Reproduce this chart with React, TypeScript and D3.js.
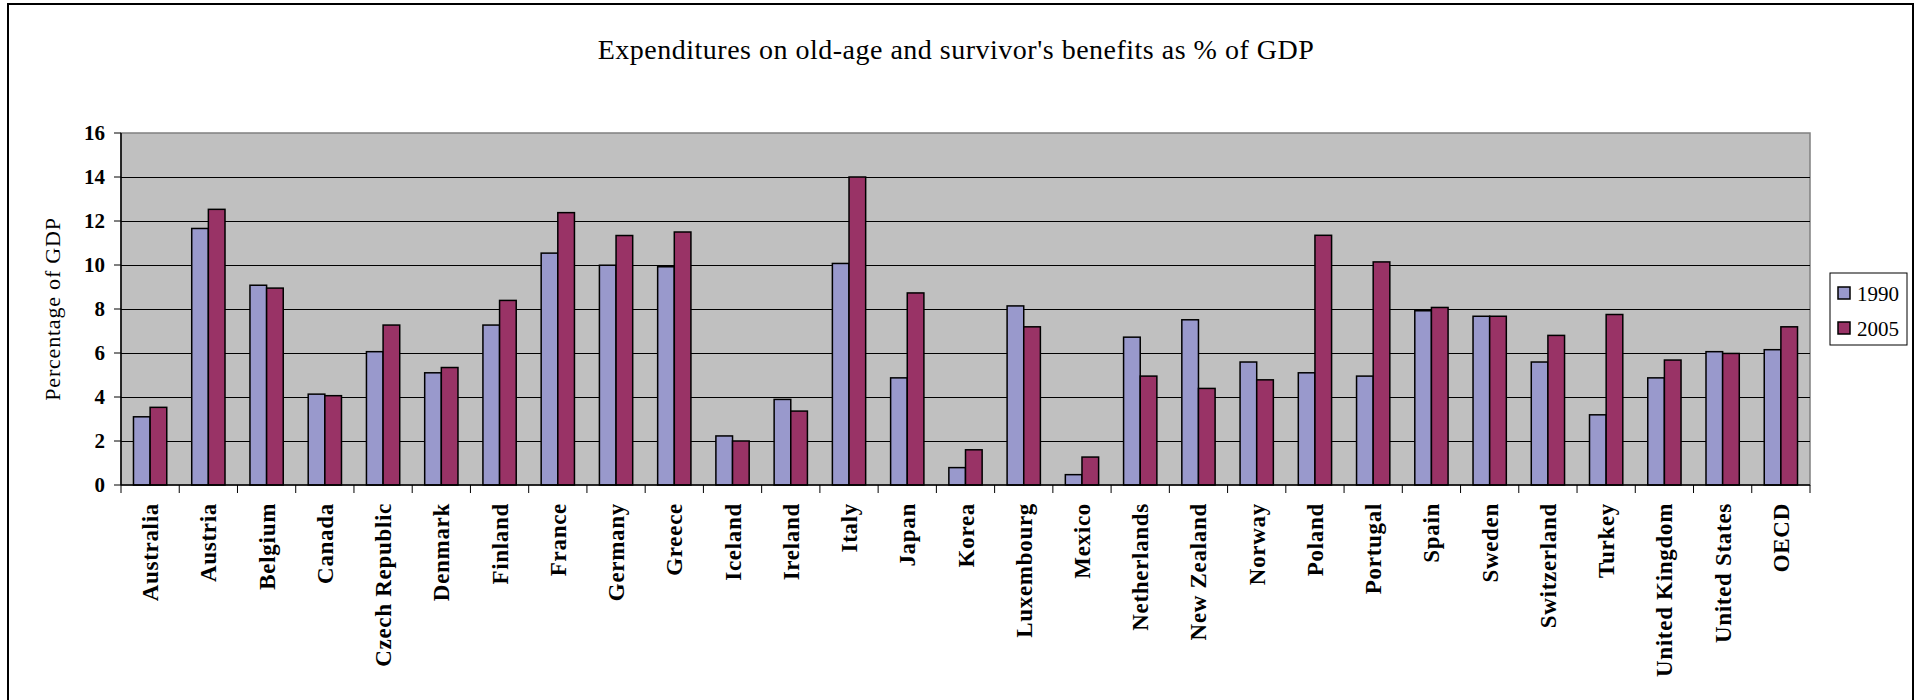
import React from "react";
import * as d3 from "d3";

const categories = [
  "Australia", "Austria", "Belgium", "Canada", "Czech Republic", "Denmark", "Finland",
  "France", "Germany", "Greece", "Iceland", "Ireland", "Italy", "Japan", "Korea",
  "Luxembourg", "Mexico", "Netherlands", "New Zealand", "Norway", "Poland", "Portugal",
  "Spain", "Sweden", "Switzerland", "Turkey", "United Kingdom", "United States", "OECD",
];
const series = ["1990", "2005"];
const values1990 = [
  3.1, 11.66, 9.08, 4.13, 6.06, 5.1, 7.27, 10.54, 9.99, 9.92, 2.23, 3.89, 10.07, 4.87, 0.79,
  8.14, 0.47, 6.72, 7.51, 5.59, 5.1, 4.95, 7.92, 7.67, 5.59, 3.19, 4.87, 6.06, 6.15,
];
const values2005 = [
  3.53, 12.53, 8.95, 4.06, 7.27, 5.34, 8.39, 12.38, 11.34, 11.5, 2.0, 3.36, 14.0, 8.73, 1.6,
  7.19, 1.27, 4.95, 4.39, 4.78, 11.35, 10.14, 8.07, 7.67, 6.8, 7.75, 5.68, 5.98, 7.19,
];
const yTicks = [0, 2, 4, 6, 8, 10, 12, 14, 16];
const title = "Expenditures on old-age and survivor's benefits as % of GDP";
const yTitle = "Percentage of GDP";
const colors = ["#9999CC", "#993366"];

const W = 1915;
const H = 700;
const plot = { left: 121, right: 1810, top: 133, bottom: 485 };
const FONT = "Liberation Serif, Times New Roman, serif";

export default function App() {
  const x = d3.scaleBand<string>().domain(categories).range([plot.left, plot.right]).padding(0);
  const inner = d3
    .scaleBand<string>()
    .domain(series)
    .range([0, x.bandwidth()])
    .paddingInner(0)
    .paddingOuter(0.75);
  const y = d3.scaleLinear().domain([0, 16]).range([plot.bottom, plot.top]);
  const data = [values1990, values2005];
  const txt = { fontFamily: FONT };

  return (
    <svg
      width={W}
      height={H}
      style={{ position: "absolute", left: 0, top: 0, background: "#fff", fontFamily: FONT }}
    >
      <rect x={8} y={4} width={1905} height={720} fill="#fff" stroke="#000" strokeWidth={2} />
      <text
        x={956}
        y={59}
        textAnchor="middle"
        fontSize={28}
        letterSpacing={0.5}
        fill="#000"
        style={txt}
      >
        {title}
      </text>

      {/* plot area */}
      <rect
        x={plot.left}
        y={plot.top}
        width={plot.right - plot.left}
        height={plot.bottom - plot.top}
        fill="#C0C0C0"
        stroke="#808080"
        strokeWidth={1.5}
      />
      {yTicks.slice(1, -1).map((t) => (
        <line
          key={t}
          x1={plot.left}
          x2={plot.right}
          y1={Math.round(y(t)) + 0.5}
          y2={Math.round(y(t)) + 0.5}
          stroke="#000"
          strokeWidth={1}
        />
      ))}

      {/* bars */}
      {categories.map((c, i) => (
        <g key={c}>
          {series.map((s, j) => (
            <rect
              key={s}
              x={(x(c) as number) + (inner(s) as number)}
              y={y(data[j][i])}
              width={inner.bandwidth()}
              height={y(0) - y(data[j][i])}
              fill={colors[j]}
              stroke="#000"
              strokeWidth={1.5}
            />
          ))}
        </g>
      ))}

      {/* axes */}
      <line x1={plot.left} x2={plot.left} y1={plot.top} y2={plot.bottom} stroke="#000" strokeWidth={1.5} />
      <line x1={plot.left} x2={plot.right} y1={plot.bottom} y2={plot.bottom} stroke="#000" strokeWidth={1.5} />
      {yTicks.map((t) => (
        <g key={t}>
          <line x1={plot.left - 7} x2={plot.left} y1={y(t)} y2={y(t)} stroke="#000" strokeWidth={1} />
          <text
            x={plot.left - 16}
            y={y(t)}
            dy="0.35em"
            textAnchor="end"
            fontSize={21}
            fontWeight="bold"
            fill="#000"
            style={txt}
          >
            {t}
          </text>
        </g>
      ))}
      {[...categories.map((c) => x(c) as number), plot.right].map((px, i) => (
        <line key={i} x1={px} x2={px} y1={plot.bottom} y2={plot.bottom + 8} stroke="#000" strokeWidth={1} />
      ))}
      {categories.map((c) => {
        const cx = (x(c) as number) + x.bandwidth() / 2 + 8;
        const cy = plot.bottom + 18;
        return (
          <text
            key={c}
            transform={`translate(${cx},${cy}) rotate(-90)`}
            textAnchor="end"
            fontSize={23}
            fontWeight="bold"
            letterSpacing={0.7}
            fill="#000"
            style={txt}
          >
            {c}
          </text>
        );
      })}
      <text
        transform={`translate(60,${(plot.top + plot.bottom) / 2}) rotate(-90)`}
        textAnchor="middle"
        fontSize={22}
        letterSpacing={0.8}
        fill="#000"
        style={txt}
      >
        {yTitle}
      </text>

      {/* legend */}
      <rect x={1830} y={273} width={77} height={72} fill="#fff" stroke="#000" strokeWidth={1} />
      {series.map((s, j) => (
        <g key={s}>
          <rect x={1838} y={287 + j * 35} width={12} height={12} fill={colors[j]} stroke="#000" strokeWidth={1.5} />
          <text x={1857} y={301 + j * 35} fontSize={21} fill="#000" style={txt}>
            {s}
          </text>
        </g>
      ))}
    </svg>
  );
}
